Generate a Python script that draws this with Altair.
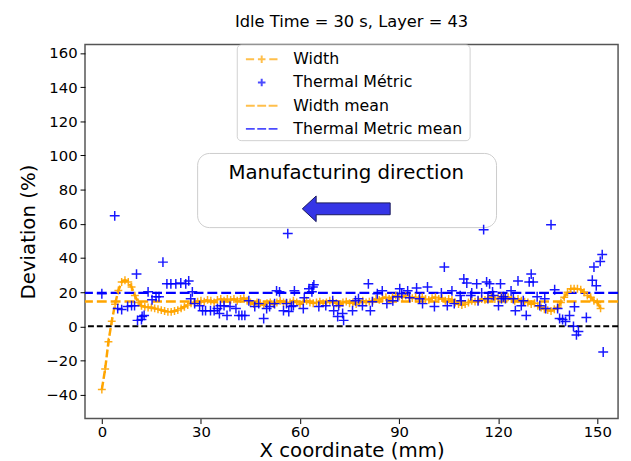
import altair as alt
import pandas as pd

# ---------------- data ----------------
width_x = list(range(0, 152))
width_y = [-37, -25, -9, 3, 13, 21, 26, 27, 26, 23,
           18, 14, 12, 11.5, 11, 11, 10.5, 10, 9.5, 9,
           8.5, 8.5, 9, 9.5, 10.5, 11.5, 12.5, 13.5, 14, 14.5,
           15, 14.5, 15.5, 15, 14, 15.5, 16, 15, 16, 15.5,
           16, 15, 16, 16.5, 15, 14, 13, 14, 13.5, 12.5,
           13.5, 14, 13, 14, 15, 14, 13.5, 14, 15, 14,
           13, 14.5, 15, 14, 13.5, 14, 14.5, 13.5, 14, 15,
           14, 13.5, 13, 14, 14.5, 13.5, 14, 13, 14, 15,
           14, 14.5, 15, 16, 15.5, 16.5, 17, 16, 17, 18,
           17.5, 17, 18, 17, 16.5, 17, 16, 17, 16, 15.5,
           16.5, 17, 16, 16.5, 15, 16, 15.5, 14, 13, 12.5,
           13, 14, 15, 14.5, 15, 16, 15.5, 16.5, 17, 16,
           16.5, 17.5, 16.5, 17, 16, 15, 16, 15, 14.5, 14,
           13, 13.5, 12, 11, 10, 9.5, 9, 10, 11, 14,
           17, 20, 22, 22, 22, 21.5, 20, 18, 17, 15,
           14, 10.5]

thermal_x = [0, 3.9, 4.8, 6.0, 7.8, 9.0, 9.9, 10.5, 10.8, 12.0,
             12.2, 12.8, 14.0, 15.2, 16.4, 17.3, 18.5, 19.7, 20.9, 22.4,
             23.9, 25.4, 26.3, 26.9, 27.4, 28.1, 29.6, 30.5, 31.4, 32.9,
             34.0, 35.0, 35.6, 35.9, 37.0, 37.9, 38.8, 40.6, 41.5, 42.4,
             43.3, 44.5, 46.3, 47.5, 49.0, 49.9, 50.8, 52.3, 52.9, 53.8,
             55.0, 55.9, 56.3, 56.6, 57.4, 58.0, 58.3, 61.0, 61.3, 62.7,
             63.6, 63.9, 64.2, 65.7, 67.8, 69.9, 70.2, 71.4, 71.7, 72.9,
             73.2, 75.9, 76.8, 77.7, 78.9, 80.7, 81.3, 81.9, 83.4, 84.9,
             86.3, 88.1, 89.6, 90.2, 90.8, 92.6, 93.2, 95.3, 96.2, 97.1,
             98.6, 100.7, 102.8, 103.7, 104.6, 106.0, 106.7, 108.5, 108.8, 109.6,
             110.5, 111.7, 112.0, 113.5, 113.9, 115.0, 115.6, 116.5, 116.9, 117.4,
             118.3, 118.6, 120.1, 120.7, 121.0, 121.6, 122.2, 123.9, 124.6, 125.2,
             126.0, 127.0, 127.6, 128.5, 129.4, 130.0, 130.6, 131.8, 132.6, 134.1,
             134.4, 136.0, 137.1, 138.0, 138.6, 139.5, 140.4, 141.6, 142.8, 143.1,
             143.7, 144.3, 146.7, 148.5, 149.0, 149.7, 150.9, 151.5, 151.8]
thermal_y = [19.1, 64.7, 10.4, 9.8, 11.6, 12.1, 12.1, 30.6, 3.5, 4.0,
             5.8, 6.4, 20.2, 15.6, 17.3, 17.3, 37.6, 24.9, 24.9, 24.9,
             25.4, 24.9, 26.6, 16.2, 20.2, 13.3, 12.1, 9.2, 9.2, 9.2,
             9.2, 10.4, 7.5, 12.1, 12.1, 6.4, 11.6, 10.4, 6.4, 6.4,
             6.4, 15.0, 11.6, 13.3, 4.6, 10.4, 11.6, 13.3, 20.8, 20.2,
             9.2, 13.3, 54.3, 8.7, 11.6, 12.1, 20.8, 10.4, 16.8, 22.0,
             20.2, 23.0, 24.3, 11.6, 12.1, 15.0, 9.2, 5.8, 12.1, 7.5,
             3.5, 9.2, 15.0, 16.2, 12.1, 24.9, 9.2, 14.4, 19.1, 20.8,
             13.3, 15.0, 17.3, 22.0, 19.1, 20.8, 16.8, 22.5, 16.2, 13.3,
             23.0, 11.6, 19.6, 34.7, 12.1, 20.8, 13.3, 18.0, 15.0, 27.7,
             25.4, 18.0, 19.6, 24.9, 15.0, 19.6, 56.6, 26.0, 16.2, 24.9,
             20.2, 18.0, 12.1, 24.9, 16.2, 17.3, 16.2, 20.8, 16.2, 9.2,
             26.6, 12.1, 15.0, 6.4, 26.0, 30.6, 26.0, 17.3, 12.1, 16.2,
             10.4, 59.5, 21.4, 10.4, 4.6, 4.0, 2.9, 6.4, 0.0, 11.5,
             -5.0, -3.0, 5.2, 27.0, 34.7, 23.7, 38.0, 42.0, -15.0]

width_mean = [14.5]
thermal_mean = [19.6]
zero_level = [0]

series_names = ["Width", "Thermal Métric", "Width mean", "Thermal Metric mean"]
series_colors = ["#ffa500", "#0000ff", "#ffa500", "#0000ff"]

x_ticks = [0, 30, 60, 90, 120, 150]
y_ticks = [-40, -20, 0, 20, 40, 60, 80, 100, 120, 140, 160]

box_x = [29.0, 119.5]
box_y = [57.8, 101.2]
box_text = ["Manufacturing direction"]
box_text_xy = [74.0, 90.0]
arrow_xy = [74.0, 68.8]
legend_box_x = [41.0, 111.5]
legend_box_y = [108.7, 164.7]

title_text = "Idle Time = 30 s, Layer = 43"

# ---------------- shapes ----------------
PLUS = "M-1,0L1,0M0,-1L0,1"
LEG_WIDTH = "M-1,0L-0.48,0M0.48,0L1,0M-0.24,0L0.24,0M0,-0.24L0,0.24"
LEG_PLUS = "M-0.24,0L0.24,0M0,-0.24L0,0.24"
LEG_DASH = "M-1,0L-0.44,0M-0.28,0L0.28,0M0.44,0L1,0"
ARROW = "M-1,0L-0.685,-0.292L-0.685,-0.135L1,-0.135L1,0.135L-0.685,0.135L-0.685,0.292Z"

# ---------------- frames ----------------
width_df = pd.DataFrame({"x": width_x, "y": width_y})
thermal_df = pd.DataFrame({"x": thermal_x, "y": thermal_y})
box_df = pd.DataFrame({"x": [box_x[0]], "x2": [box_x[1]], "y": [box_y[0]], "y2": [box_y[1]]})
lbox_df = pd.DataFrame({"x": [legend_box_x[0]], "x2": [legend_box_x[1]],
                        "y": [legend_box_y[0]], "y2": [legend_box_y[1]]})
text_df = pd.DataFrame({"x": [box_text_xy[0]], "y": [box_text_xy[1]], "t": box_text})
arrow_df = pd.DataFrame({"x": [arrow_xy[0]], "y": [arrow_xy[1]]})
legend_df = pd.DataFrame({"series": series_names, "x": [-100] * 4, "y": [0] * 4})

xscale = alt.Scale(domain=[-5.1, 156.3], nice=False, zero=False)
yscale = alt.Scale(domain=[-54, 165], nice=False, zero=False)

X = alt.X("x:Q", scale=xscale,
          axis=alt.Axis(values=x_ticks, title="X coordinate (mm)", grid=False))
Y = alt.Y("y:Q", scale=yscale,
          axis=alt.Axis(values=y_ticks, title="Deviation (%)", grid=False))

box = alt.Chart(box_df).mark_rect(
    cornerRadius=12, fill="white", stroke="#cccccc", strokeWidth=1
).encode(x=X, x2="x2:Q", y=Y, y2="y2:Q")

legend_box = alt.Chart(lbox_df).mark_rect(
    cornerRadius=4, fill="white", stroke="#d0d0d0", strokeWidth=1
).encode(x=X, x2="x2:Q", y=Y, y2="y2:Q")

label = alt.Chart(text_df).mark_text(
    fontSize=20, font="DejaVu Sans", color="black", align="center", baseline="middle"
).encode(x=X, y=Y, text="t:N")

arrow = alt.Chart(arrow_df).mark_point(
    shape=ARROW, size=7921, filled=True, fill="#3535e6", stroke="#1a1a5a",
    strokeWidth=1, opacity=1
).encode(x=X, y=Y)

zero_rule = alt.Chart(pd.DataFrame({"y": zero_level})).mark_rule(
    color="black", strokeDash=[6, 3], strokeWidth=2
).encode(y=Y)

wmean_rule = alt.Chart(pd.DataFrame({"y": width_mean})).mark_rule(
    color="#ffa500", strokeDash=[10, 4], strokeWidth=2.5
).encode(y=Y)

tmean_rule = alt.Chart(pd.DataFrame({"y": thermal_mean})).mark_rule(
    color="#0000ff", strokeDash=[10, 4], strokeWidth=2.5
).encode(y=Y)

width_line = alt.Chart(width_df).mark_line(
    color="#ffa500", strokeDash=[8, 3], strokeWidth=2.5
).encode(x=X, y=Y)

width_pts = alt.Chart(width_df).mark_point(
    shape=PLUS, size=64, filled=False, color="#ffa500", strokeWidth=1.5, opacity=0.9
).encode(x=X, y=Y)

thermal_pts = alt.Chart(thermal_df).mark_point(
    shape=PLUS, size=100, filled=False, color="#0000ff", strokeWidth=1.5, opacity=0.9
).encode(x=X, y=Y)

leg = alt.Legend(
    orient="none", legendX=162, legendY=5, title=None, titlePadding=0,
    labelFontSize=16, labelFont="DejaVu Sans", labelColor="black", labelLimit=300,
    symbolSize=1024, symbolStrokeWidth=2, clipHeight=20,
    padding=0, rowPadding=3.5, labelOffset=15
)

legend_layer = alt.Chart(legend_df).mark_point(clip=True, filled=False).encode(
    x=X, y=Y,
    color=alt.Color("series:N", scale=alt.Scale(domain=series_names, range=series_colors), legend=leg),
    shape=alt.Shape("series:N", scale=alt.Scale(domain=series_names,
                                                range=[LEG_WIDTH, LEG_PLUS, LEG_DASH, LEG_DASH]),
                    legend=leg),
)

chart = alt.layer(
    box, arrow, label, zero_rule, wmean_rule, tmean_rule,
    width_line, width_pts, thermal_pts, legend_box, legend_layer
).properties(
    width=540, height=379,
    autosize=alt.AutoSizeParams(type="none"),
    padding={"left": 78, "top": 34, "right": 5, "bottom": 40},
    title=alt.TitleParams(title_text, fontSize=16.5, font="DejaVu Sans",
                          fontWeight="normal", color="black", anchor="middle", offset=14),
).configure_view(
    stroke="#555555", strokeWidth=1.5
).configure_axis(
    domain=False, tickColor="black", tickSize=5, tickWidth=1,
    labelFontSize=15, labelFont="DejaVu Sans", labelColor="black",
    titleFontSize=20, titleFont="DejaVu Sans", titleColor="black", titleFontWeight="normal"
).configure_axisY(titlePadding=8, labelPadding=3).configure_axisX(titlePadding=1, labelPadding=1)

chart.save("out.html", embed_options={"renderer": "svg", "actions": False})
